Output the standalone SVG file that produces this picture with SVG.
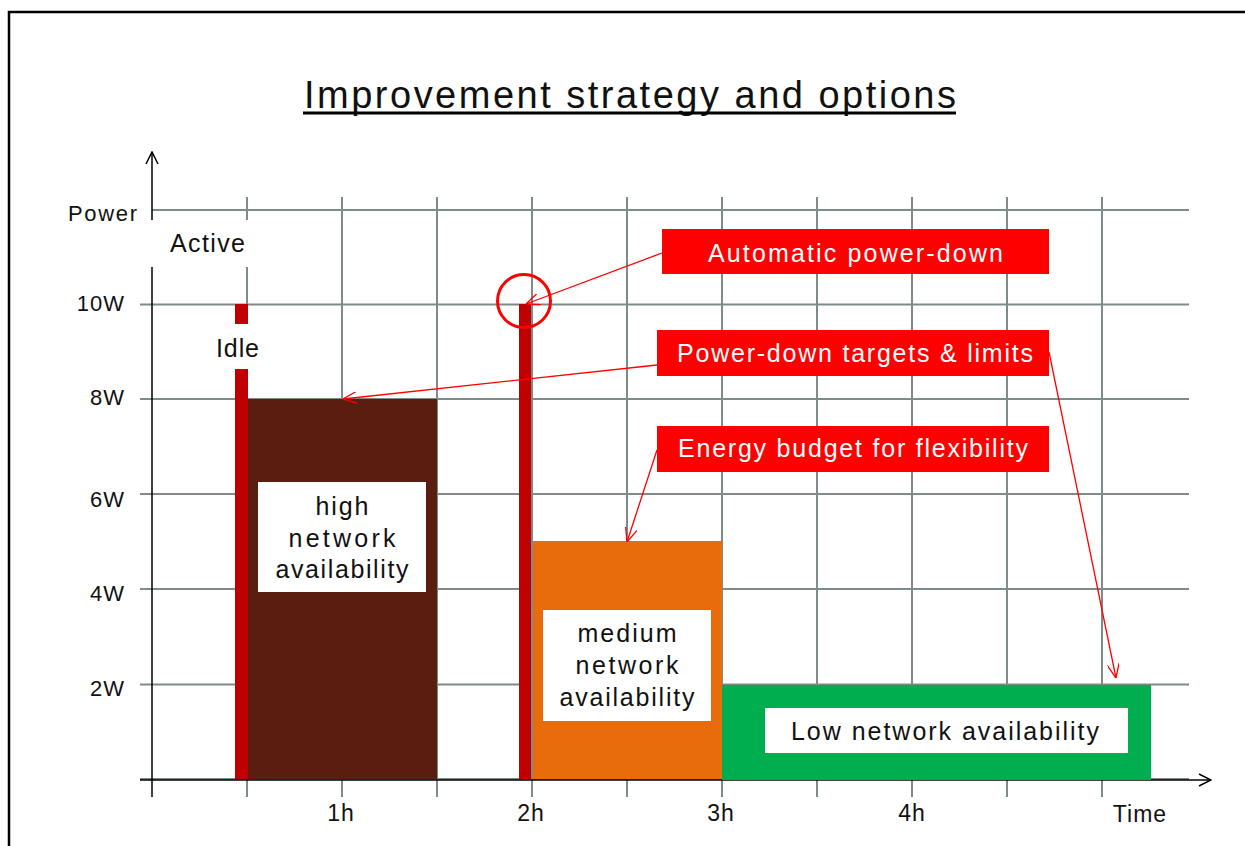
<svg xmlns="http://www.w3.org/2000/svg" width="1245" height="846" viewBox="0 0 1245 846">
<style>
text{font-family:"Liberation Sans",Arial,sans-serif;fill:#111}
.grid line{stroke:#7f8a8a;stroke-width:2}
.axis{stroke:#000;stroke-width:1.5;fill:none}
.lbl{font-size:25px;text-anchor:middle}
.tick{font-size:22px;text-anchor:end;letter-spacing:1px}
.xt{font-size:23px;text-anchor:middle;letter-spacing:1px}
.callout rect{fill:#ff0000}
.callout text{fill:#fff;font-size:25px;text-anchor:middle}
.conn{stroke:#ff0000;stroke-width:1.3;fill:none}
.wbox{fill:#fff}
</style>
<defs>
<marker id="ah" markerUnits="userSpaceOnUse" viewBox="0 0 14 12" refX="14" refY="6" markerWidth="14" markerHeight="12" orient="auto">
<path d="M0,0 L14,6 L0,12" fill="none" stroke="#ff0000" stroke-width="1.3"/>
</marker>
<marker id="axh" markerUnits="userSpaceOnUse" viewBox="0 0 14 14" refX="13" refY="7" markerWidth="14" markerHeight="14" orient="auto">
<path d="M1,1 L13,7 L1,13" fill="none" stroke="#000" stroke-width="1.5"/>
</marker>
</defs>
<rect x="9" y="12" width="1250" height="850" fill="#fff" stroke="#000" stroke-width="2.5"/>
<g id="title">
<text x="630" y="108" font-size="38" text-anchor="middle" textLength="652" lengthAdjust="spacing">Improvement strategy and options</text>
<line x1="303" y1="113" x2="956" y2="113" stroke="#000" stroke-width="3"/>
</g>
<g class="grid">
<line x1="247" y1="197" x2="247" y2="797"/>
<line x1="342" y1="197" x2="342" y2="797"/>
<line x1="437" y1="197" x2="437" y2="797"/>
<line x1="532" y1="197" x2="532" y2="797"/>
<line x1="627" y1="197" x2="627" y2="797"/>
<line x1="722" y1="197" x2="722" y2="797"/>
<line x1="817" y1="197" x2="817" y2="797"/>
<line x1="912" y1="197" x2="912" y2="797"/>
<line x1="1007" y1="197" x2="1007" y2="797"/>
<line x1="1102" y1="197" x2="1102" y2="797"/>
<line x1="152" y1="210" x2="1189" y2="210"/>
<line x1="140" y1="304.5" x2="1189" y2="304.5"/>
<line x1="140" y1="399" x2="1189" y2="399"/>
<line x1="140" y1="494" x2="1189" y2="494"/>
<line x1="140" y1="589" x2="1189" y2="589"/>
<line x1="140" y1="684.5" x2="1189" y2="684.5"/>
<line x1="140" y1="779" x2="1189" y2="779"/>
</g>
<g id="axes">
<line class="axis" x1="152" y1="797" x2="152" y2="152" marker-end="url(#axh)"/>
<line class="axis" x1="140" y1="780" x2="1211" y2="780" marker-end="url(#axh)"/>
<text x="68" y="221" font-size="22" textLength="69" lengthAdjust="spacing">Power</text>
<text class="tick" x="125" y="311">10W</text>
<text class="tick" x="125" y="405">8W</text>
<text class="tick" x="125" y="507">6W</text>
<text class="tick" x="125" y="601">4W</text>
<text class="tick" x="125" y="696">2W</text>
<text class="xt" x="341" y="821">1h</text>
<text class="xt" x="531" y="821">2h</text>
<text class="xt" x="721" y="821">3h</text>
<text class="xt" x="912" y="821">4h</text>
<text class="xt" x="1140" y="822">Time</text>
</g>
<g id="active-label">
<rect class="wbox" x="145" y="220" width="107" height="47"/>
<text x="170" y="252" font-size="25" textLength="75" lengthAdjust="spacing">Active</text>
</g>
<g id="idle-bar-1">
<rect x="235" y="304" width="13" height="475" fill="#c00000"/>
</g>
<g id="idle-label">
<rect class="wbox" x="208" y="324" width="56" height="45"/>
<text x="216" y="357" font-size="25" textLength="43" lengthAdjust="spacing">Idle</text>
</g>
<g id="high">
<rect x="248" y="399" width="189" height="380" fill="#5a1e10"/>
<rect class="wbox" x="258" y="482" width="168" height="110"/>
<text class="lbl" x="342" y="515" textLength="53" lengthAdjust="spacing">high</text>
<text class="lbl" x="342" y="547" textLength="107" lengthAdjust="spacing">network</text>
<text class="lbl" x="342" y="578" textLength="133" lengthAdjust="spacing">availability</text>
</g>
<g id="idle-bar-2">
<rect x="519" y="304" width="12" height="475" fill="#c00000"/>
</g>
<g id="medium">
<rect x="533" y="541" width="189" height="238" fill="#e96c0c"/>
<rect class="wbox" x="543" y="610" width="168" height="111"/>
<text class="lbl" x="627" y="642" textLength="99" lengthAdjust="spacing">medium</text>
<text class="lbl" x="627" y="674" textLength="103" lengthAdjust="spacing">network</text>
<text class="lbl" x="627" y="706" textLength="135" lengthAdjust="spacing">availability</text>
</g>
<g id="low">
<rect x="722" y="685" width="429" height="95" fill="#00ad4f"/>
<rect class="wbox" x="765" y="708" width="363" height="45"/>
<text class="lbl" x="945" y="740" textLength="308" lengthAdjust="spacing">Low network availability</text>
</g>
<g id="highlight">
<circle cx="524" cy="301" r="26.5" fill="none" stroke="#ff0000" stroke-width="3"/>
</g>
<g id="connectors">
<line class="conn" x1="662" y1="253" x2="526" y2="304" marker-end="url(#ah)"/>
<line class="conn" x1="657" y1="365" x2="343" y2="399" marker-end="url(#ah)"/>
<line class="conn" x1="1049" y1="352" x2="1116" y2="678" marker-end="url(#ah)"/>
<line class="conn" x1="657" y1="450" x2="627" y2="542" marker-end="url(#ah)"/>
</g>
<g id="auto-powerdown" class="callout">
<rect x="662" y="229" width="387" height="45"/>
<text x="855.5" y="262" textLength="295" lengthAdjust="spacing">Automatic power-down</text>
</g>
<g id="targets" class="callout">
<rect x="657" y="330" width="392" height="46"/>
<text x="855" y="362" textLength="356" lengthAdjust="spacing">Power-down targets &amp; limits</text>
</g>
<g id="budget" class="callout">
<rect x="657" y="426" width="392" height="46"/>
<text x="853" y="457" textLength="350" lengthAdjust="spacing">Energy budget for flexibility</text>
</g>
</svg>
